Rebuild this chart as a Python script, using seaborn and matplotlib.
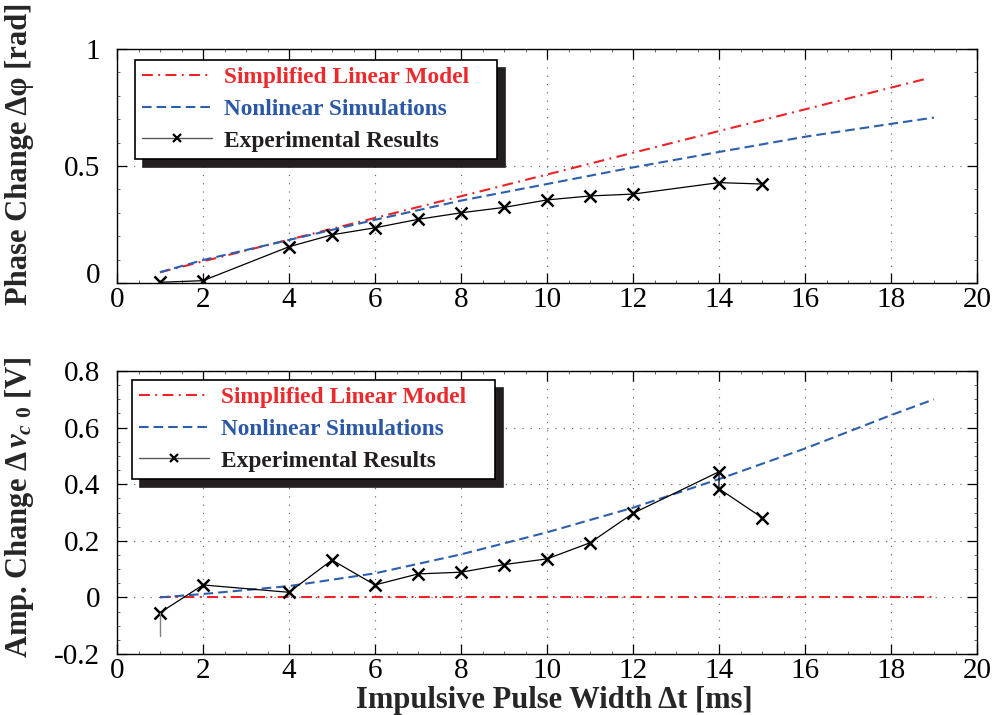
import matplotlib
matplotlib.use("Agg")
import matplotlib.pyplot as plt
import matplotlib.transforms as mtransforms
from matplotlib.ticker import MultipleLocator, FixedLocator
from matplotlib.lines import Line2D
import seaborn as sns
import pandas as pd

# ---------------- data ----------------
# Top panel: phase change [rad]
phase_lin_x = [1, 18.8]
phase_lin_y = [0.046, 0.872]
phase_sim_x = [1, 2, 4, 6, 8, 10, 12, 14, 16, 18, 19]
phase_sim_y = [0.046, 0.098, 0.184, 0.27, 0.352, 0.423, 0.494, 0.56, 0.625, 0.68, 0.707]
phase_exp_x = [1, 2, 4, 5, 6, 7, 8, 9, 10, 11, 12, 14, 15]
phase_exp_y = [0.003, 0.01, 0.155, 0.206, 0.236, 0.272, 0.30, 0.323, 0.355, 0.372, 0.38, 0.429, 0.423]

# Bottom panel: amplitude change [V]
amp_lin_x = [1, 19]
amp_lin_y = [0.0, 0.0]
amp_sim_x = [1, 2, 4, 6, 8, 10, 12, 14, 16, 18, 19]
amp_sim_y = [0.0, 0.012, 0.04, 0.085, 0.152, 0.23, 0.317, 0.418, 0.526, 0.644, 0.70]
amp_exp_x = [1, 2, 4, 5, 6, 7, 8, 9, 10, 11, 12, 14, 14, 15]
amp_exp_y = [-0.054, 0.044, 0.018, 0.132, 0.044, 0.083, 0.089, 0.116, 0.136, 0.193, 0.297, 0.444, 0.384, 0.282]
amp_err_x = [1, 1]
amp_err_y = [-0.054, -0.135]

labels = ["Simplified Linear Model", "Nonlinear Simulations", "Experimental Results"]
x_ticks = [0, 2, 4, 6, 8, 10, 12, 14, 16, 18, 20]
top_yticks = [0, 0.5, 1]
top_yticklabels = ["0", "0.5", "1"]
bot_yticks = [-0.2, 0, 0.2, 0.4, 0.6, 0.8]
bot_yticklabels = ["-0.2", "0", "0.2", "0.4", "0.6", "0.8"]

RED = "#ec2227"
BLUE = "#2c5fae"
RED_TXT = "#ec2a2e"
BLUE_TXT = "#2b58a6"

# ---------------- style ----------------
sns.set_theme(style="white")
plt.rcParams["font.family"] = ["Liberation Serif", "DejaVu Serif"]
plt.rcParams["mathtext.fontset"] = "custom"
plt.rcParams["mathtext.rm"] = "Liberation Serif:bold"
plt.rcParams["mathtext.it"] = "Liberation Serif:italic:bold"
plt.rcParams["mathtext.bf"] = "Liberation Serif:bold"

fig = plt.figure(figsize=(9.99, 7.15), dpi=100)
ax1 = fig.add_axes([117 / 999, (715 - 283) / 715, 860 / 999, 234 / 715])
ax2 = fig.add_axes([117 / 999, (715 - 654) / 715, 860 / 999, 283 / 715])

LW = 1.5
red_ls = (0, (5.2, 2.6, 0.9, 2.6))
blue_ls = (0, (4.6, 2.4))


def draw(ax, lx, ly, sx, sy, ex, ey):
    sns.lineplot(x=lx, y=ly, ax=ax, color=RED, lw=LW, linestyle=red_ls,
                 estimator=None, sort=False, label=labels[0])
    sns.lineplot(x=sx, y=sy, ax=ax, color=BLUE, lw=LW, linestyle=blue_ls,
                 estimator=None, sort=False, label=labels[1])
    sns.lineplot(x=ex, y=ey, ax=ax, color="black", lw=0.9, marker="x",
                 markersize=8, markeredgewidth=1.8, markeredgecolor="black",
                 estimator=None, sort=False, label=labels[2])


draw(ax1, phase_lin_x, phase_lin_y, phase_sim_x, phase_sim_y, phase_exp_x, phase_exp_y)
draw(ax2, amp_lin_x, amp_lin_y, amp_sim_x, amp_sim_y, amp_exp_x, amp_exp_y)
sns.lineplot(x=amp_err_x, y=amp_err_y, ax=ax2, color="0.5", lw=1.0,
             estimator=None, sort=False, legend=False)

for ax, yt, ytl, ylim, yminor in [
    (ax1, top_yticks, top_yticklabels, (0, 1), 0.1),
    (ax2, bot_yticks, bot_yticklabels, (-0.2, 0.8), 0.05),
]:
    ax.set_xlim(0, 20)
    ax.set_ylim(*ylim)
    ax.xaxis.set_major_locator(FixedLocator(x_ticks))
    ax.set_xticklabels([str(t) for t in x_ticks])
    ax.yaxis.set_major_locator(FixedLocator(yt))
    ax.set_yticklabels(ytl)
    ax.xaxis.set_minor_locator(MultipleLocator(0.5))
    ax.yaxis.set_minor_locator(MultipleLocator(yminor))
    ax.tick_params(which="major", direction="in", length=7, width=0.9,
                   top=True, right=True, bottom=True, left=True,
                   labelsize=21, colors="black")
    ax.tick_params(axis="x", which="major", pad=3)
    ax.tick_params(axis="y", which="major", pad=12)
    ax.tick_params(which="minor", direction="in", length=2.2, width=0.6,
                   top=True, right=True, bottom=True, left=True, color="0.3")
    for s in ax.spines.values():
        s.set_visible(True)
        s.set_color("black")
        s.set_linewidth(1.0)
    ax.grid(True, which="major", linestyle=(0, (1.0, 6.0)), color="0.4", lw=0.85)
    ax.set_facecolor("white")
    ax.set_xlabel("")

leg_handles = [
    Line2D([], [], color=RED, lw=LW, linestyle=red_ls),
    Line2D([], [], color=BLUE, lw=LW, linestyle=blue_ls),
    Line2D([], [], color="0.35", lw=1.0, marker="x", markersize=6,
           markeredgewidth=1.6, markeredgecolor="black"),
]

# raise the "0" label of the top panel a bit (as in the reference)
t0 = ax1.yaxis.get_major_ticks()[0]
t0.label1.set_transform(t0.label1.get_transform()
                        + mtransforms.ScaledTranslation(0, 10 / 100, fig.dpi_scale_trans))

leg_kw = dict(loc="upper left", mode="expand", numpoints=1, handlelength=3.0,
              handletextpad=0.5, labelspacing=0.44, borderpad=0.3, borderaxespad=0,
              fancybox=False, framealpha=1, edgecolor="black",
              prop={"family": ["Liberation Serif", "DejaVu Serif"], "weight": "bold", "size": 16.8},
              shadow={"ox": 6, "oy": -6, "facecolor": "#231f20", "edgecolor": "#231f20", "alpha": 1})
leg1 = ax1.legend(leg_handles, labels, bbox_to_anchor=(0.021, 0.953, 0.421, 0), **leg_kw)
leg2 = ax2.legend(leg_handles, labels, bbox_to_anchor=(0.0174, 0.968, 0.422, 0), **leg_kw)
for leg in (leg1, leg2):
    leg.get_frame().set_linewidth(1.2)
    for txt, c in zip(leg.get_texts(), [RED_TXT, BLUE_TXT, "#231f20"]):
        txt.set_color(c)

ax1.set_ylabel("Phase Change Δφ [rad]", fontsize=22, fontweight="bold")
ax2.set_ylabel("Amp. Change Δ$\\,v_{c\\;\\,0}$ [V]", fontsize=22, fontweight="bold")
ax1.yaxis.set_label_coords(-0.096, 0.55)
ax2.yaxis.set_label_coords(-0.094, 0.52)
ax2.set_xlabel("Impulsive Pulse Width Δt [ms]", fontsize=22, fontweight="bold")
ax2.xaxis.set_label_coords(0.508, -0.112)

fig.savefig("out.png", dpi=100, facecolor="white")
